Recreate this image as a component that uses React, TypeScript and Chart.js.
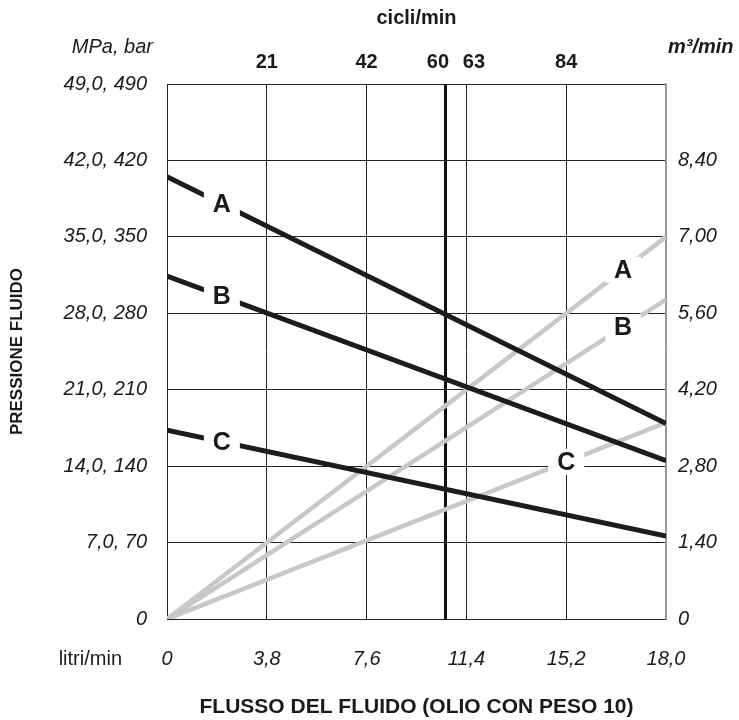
import React, { useEffect, useRef } from 'react';
import { Chart, registerables } from 'chart.js';

Chart.register(...registerables);

// ---- data ----
const litriLabels = ['0', '3,8', '7,6', '11,4', '15,2', '18,0'];
const gridPositions = [0, 1, 2, 3, 4, 5];
const cicliLabels = ['21', '42', '60  \u2009', '  \u200963', '84'];
const cicliPositions = [1, 2, 2.79, 3, 4];
const markPosition = 2.79; // 60 cicli/min
const pressureTicks = [0, 7, 14, 21, 28, 35, 42, 49];
const pressureLabels = ['0', '7,0, 70', '14,0, 140', '21,0, 210', '28,0, 280', '35,0, 350', '42,0, 420', '49,0, 490'];
const flowTicks = [0, 1.4, 2.8, 4.2, 5.6, 7.0, 8.4, 9.8];
const flowLabels = ['0', '1,40', '2,80', '4,20', '5,60', '7,00', '8,40', ''];
const seriesNames = ['A', 'B', 'C'];
const xEnds = [0, 5];
const pressureA = [40.5, 17.9];
const pressureB = [31.4, 14.5];
const pressureC = [17.3, 7.6];
const flowA = [0, 7.0];
const flowB = [0, 5.85];
const flowC = [0, 3.6];
const pressureTagX = [0.55, 0.55, 0.55];
const flowTagX = [4.57, 4.57, 4.0];

const FONT = '"Liberation Sans", Arial, Helvetica, sans-serif';
const INK = '#1a1a1a';
const GRID = '#222222';
const FRAME_RIGHT = '#9a9a9a';
const DARK = '#1c1c1c';
const LIGHT = '#c8c8c8';

function interp(xs: number[], ys: number[], x: number) {
  const t = (x - xs[0]) / (xs[1] - xs[0]);
  return ys[0] + t * (ys[1] - ys[0]);
}

const lineLabelPlugin = {
  id: 'lineLabels',
  afterDatasetsDraw(chart: any) {
    const { ctx } = chart;
    ctx.save();
    chart.data.datasets.forEach((ds: any) => {
      if (!ds.tag) return;
      const xScale = chart.scales.x;
      const yScale = chart.scales[ds.yAxisID];
      const ys = ds.data.map((p: any) => p.y);
      const xs = ds.data.map((p: any) => p.x);
      const yv = interp(xs, ys, ds.tagX);
      const px = xScale.getPixelForValue(ds.tagX);
      const py = yScale.getPixelForValue(yv);
      ctx.fillStyle = '#ffffff';
      ctx.fillRect(px - 18, py - 13, 36, 26);
      ctx.fillStyle = INK;
      ctx.font = `bold 25px ${FONT}`;
      ctx.textAlign = 'center';
      ctx.textBaseline = 'middle';
      ctx.fillText(ds.tag, px, py + 1);
    });
    ctx.restore();
  },
};

const unitPlugin = {
  id: 'unitText',
  afterDraw(chart: any) {
    const { ctx, chartArea } = chart;
    ctx.save();
    ctx.fillStyle = INK;
    ctx.textBaseline = 'middle';
    ctx.font = `italic 20px ${FONT}`;
    ctx.textAlign = 'right';
    ctx.fillText('MPa, bar', chartArea.left - 14, chartArea.top - 37);
    ctx.font = `italic bold 20px ${FONT}`;
    ctx.textAlign = 'left';
    ctx.fillText('m\u00B3/min', chartArea.right + 2, chartArea.top - 37);
    ctx.font = `20px ${FONT}`;
    ctx.textAlign = 'right';
    ctx.fillText('litri/min', chartArea.left - 45, chartArea.bottom + 40);
    ctx.restore();
  },
};

function pts(ys: number[]) {
  return xEnds.map((x, i) => ({ x, y: ys[i] }));
}

export default function App() {
  const ref = useRef<HTMLCanvasElement | null>(null);

  useEffect(() => {
    document.body.style.margin = '0';
    const canvas = ref.current;
    if (!canvas) return;
    const pressure = [pressureA, pressureB, pressureC];
    const flow = [flowA, flowB, flowC];
    const datasets: any[] = [];
    pressure.forEach((ys, i) => {
      datasets.push({
        label: 'P ' + seriesNames[i],
        data: pts(ys),
        yAxisID: 'y',
        xAxisID: 'x',
        borderColor: DARK,
        borderWidth: 5,
        pointRadius: 0,
        tag: seriesNames[i],
        tagX: pressureTagX[i],
      });
    });
    flow.forEach((ys, i) => {
      datasets.push({
        label: 'Q ' + seriesNames[i],
        data: pts(ys),
        yAxisID: 'y2',
        xAxisID: 'x',
        borderColor: LIGHT,
        borderWidth: 4.5,
        pointRadius: 0,
        tag: seriesNames[i],
        tagX: flowTagX[i],
      });
    });

    const chart = new Chart(canvas, {
      type: 'line',
      data: { datasets },
      plugins: [lineLabelPlugin, unitPlugin],
      options: {
        animation: false,
        responsive: false,
        devicePixelRatio: 1,
        layout: { padding: 0 },
        plugins: { legend: { display: false }, tooltip: { enabled: false } },
        scales: {
          x: {
            type: 'linear',
            position: 'bottom',
            min: 0,
            max: 5,
            afterBuildTicks: (s: any) => { s.ticks = gridPositions.map((v) => ({ value: v })); },
            afterFit: (s: any) => { s.height = 101; },
            ticks: {
              autoSkip: false,
              maxRotation: 0,
              padding: 28,
              color: INK,
              font: { family: FONT, size: 20, style: 'italic' },
              callback: (_v: any, i: number) => litriLabels[i],
            },
            grid: {
              drawTicks: false,
              color: (c: any) => (c.index === gridPositions.length - 1 ? FRAME_RIGHT : GRID),
              lineWidth: 1,
            },
            border: { display: true, color: GRID, width: 1 },
            title: {
              display: true,
              text: 'FLUSSO DEL FLUIDO (OLIO CON PESO 10)',
              color: INK,
              font: { family: FONT, size: 21, weight: 'bold' },
              padding: { top: 0, bottom: 0 },
            },
          },
          xTop: {
            type: 'linear',
            position: 'top',
            min: 0,
            max: 5,
            afterBuildTicks: (s: any) => { s.ticks = cicliPositions.map((v) => ({ value: v })); },
            afterFit: (s: any) => { s.height = 84; },
            ticks: {
              autoSkip: false,
              maxRotation: 0,
              padding: 10,
              color: INK,
              font: { family: FONT, size: 20, weight: 'bold' },
              callback: (_v: any, i: number) => cicliLabels[i],
            },
            grid: {
              drawTicks: false,
              color: (c: any) => (c.tick && c.tick.value === markPosition ? '#111111' : 'rgba(0,0,0,0)'),
              lineWidth: (c: any) => (c.tick && c.tick.value === markPosition ? 3 : 0),
            },
            border: { display: true, color: GRID, width: 1 },
            title: {
              display: true,
              text: 'cicli/min',
              color: INK,
              font: { family: FONT, size: 20, weight: 'bold' },
              padding: { top: 6, bottom: 0 },
            },
          },
          y: {
            type: 'linear',
            position: 'left',
            min: 0,
            max: 49,
            afterBuildTicks: (s: any) => { s.ticks = pressureTicks.map((v) => ({ value: v })); },
            afterFit: (s: any) => { s.width = 167; },
            ticks: {
              autoSkip: false,
              padding: 20,
              color: INK,
              font: { family: FONT, size: 20, style: 'italic' },
              callback: (_v: any, i: number) => pressureLabels[i],
            },
            grid: { drawTicks: false, color: GRID, lineWidth: 1 },
            border: { display: true, color: GRID, width: 1 },
            title: {
              display: true,
              text: 'PRESSIONE FLUIDO',
              color: INK,
              font: { family: FONT, size: 17, weight: 'bold' },
              padding: { top: 7, bottom: 0 },
            },
          },
          y2: {
            type: 'linear',
            position: 'right',
            min: 0,
            max: 9.8,
            afterBuildTicks: (s: any) => { s.ticks = flowTicks.map((v) => ({ value: v })); },
            afterFit: (s: any) => { s.width = 73; },
            ticks: {
              autoSkip: false,
              padding: 12,
              color: INK,
              font: { family: FONT, size: 20, style: 'italic' },
              callback: (_v: any, i: number) => flowLabels[i],
            },
            grid: { display: false, drawTicks: false },
            border: { display: true, color: FRAME_RIGHT, width: 1.5 },
          },
        },
      } as any,
    });
    return () => chart.destroy();
  }, []);

  return (
    <div style={{ width: 739, height: 720 }}>
      <canvas ref={ref} width={739} height={720} style={{ display: 'block' }} />
    </div>
  );
}
